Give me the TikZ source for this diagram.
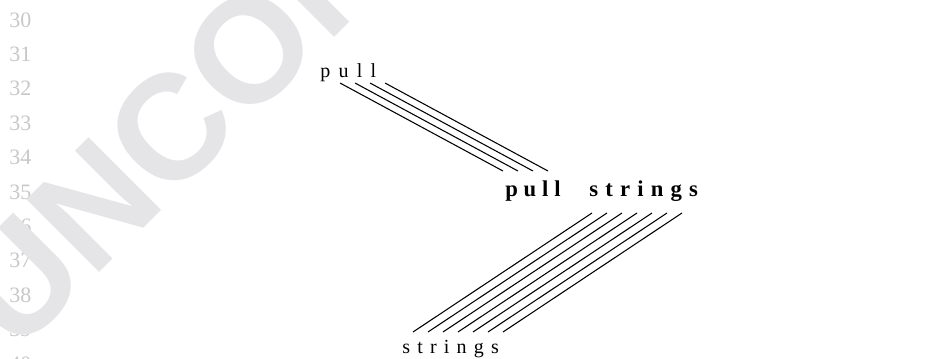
\documentclass[tikz,border=0pt]{standalone}
\usepackage{fontspec}
\setmainfont{Liberation Serif}
\newfontfamily\wmfont{Liberation Sans}
\usepackage{tikz}
\usetikzlibrary{calc}
\definecolor{lnogray}{HTML}{C8C8C8}
\definecolor{wmgray}{HTML}{E5E5E7}
\tikzset{
    letter/.style={
        inner sep=0pt, anchor=base west,
        font=\fontsize{15}{15}\selectfont,
    },
    bletter/.style={
        letter, font=\fontsize{17}{17}\selectfont\bfseries,
    },
    lineno/.style={
        inner sep=0pt, anchor=base west,
        font=\fontsize{16.5}{16.5}\selectfont\color{lnogray},
    },
    watermark/.style={
        inner sep=0pt, anchor=base west, rotate=45,
        font=\wmfont\bfseries\fontsize{112}{112}\selectfont\color{wmgray},
    },
    wire/.style={
        line width=0.8pt, black,
    },
}

\begin{document}
\begin{tikzpicture}[x=0.75pt, y=-0.75pt]

\useasboundingbox (0,0) rectangle (927,358);
\clip (0,0) rectangle (927,358);
\fill[white] (0,0) rectangle (927,358);

% ═══ LINE NUMBERS + WATERMARK ═══
\foreach \n [count=\k from 0] in {30,...,40}
    \node[lineno] (ln\n) at (9, 27+34.4*\k) {\n};

\node[watermark] (wm) at (16,356) {UNCORRECTED PROOF};

% ═══ TOP WORD ═══
\node[letter] (tp1) at (320,77) {p};
\foreach \ch [count=\i from 2, remember=\i as \j (initially 1)] in {u,l,l}
    \node[letter] (tp\i) at ([xshift=5.8pt]tp\j.base east) {\ch};

% ═══ BOLD COMPOUND ═══
\node[bletter] (bp1) at (505,196) {p};
\foreach \ch [count=\i from 2, remember=\i as \j (initially 1)] in {u,l,l}
    \node[bletter] (bp\i) at ([xshift=4pt]bp\j.base east) {\ch};

\node[bletter] (bs1) at (589,196) {s};
\foreach \ch [count=\i from 2, remember=\i as \j (initially 1)] in {t,r,i,n,g,s}
    \node[bletter] (bs\i) at ([xshift=5pt]bs\j.base east) {\ch};

% ═══ BOTTOM WORD ═══
\node[letter] (bt1) at (402,353) {s};
\foreach \ch [count=\i from 2, remember=\i as \j (initially 1)] in {t,r,i,n,g,s}
    \node[letter] (bt\i) at ([xshift=5pt]bt\j.base east) {\ch};

% Links pull -> pull
\foreach \i in {0,...,3} {
    \coordinate (pa\i) at ($(tp1.base west)+(20+15*\i,6)$);
    \coordinate (pb\i) at ($(bp1.base west)+(-2+15*\i,-25)$);
    \draw[wire] (pa\i) -- (pb\i);
}

% Links strings -> strings
\foreach \i in {0,...,6} {
    \coordinate (sa\i) at ($(bs1.base west)+(3+15*\i,17)$);
    \coordinate (sb\i) at ($(bt1.base west)+(11+15*\i,-21)$);
    \draw[wire] (sa\i) -- (sb\i);
}

\end{tikzpicture}
\end{document}
